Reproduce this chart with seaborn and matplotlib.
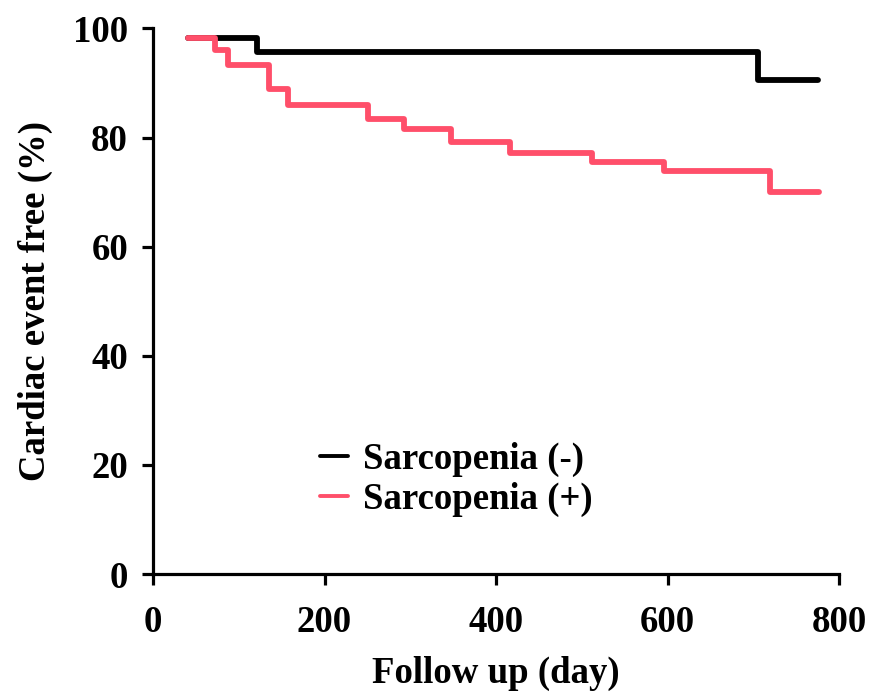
import pandas as pd
import seaborn as sns
import matplotlib.pyplot as plt

# Kaplan-Meier style curves
days_neg = [41, 121, 705, 776]
surv_neg = [98.2, 95.7, 90.5, 90.5]

days_pos = [41, 72, 88, 135, 157, 251, 293, 347, 416, 512, 596, 720, 777]
surv_pos = [98.3, 96.1, 93.4, 89.0, 85.9, 83.5, 81.6, 79.2, 77.2, 75.5, 73.8, 70.0, 70.0]

labels = ["Sarcopenia (-)", "Sarcopenia (+)"]
colors = ["#000000", "#FF4F6A"]

df = pd.concat([
    pd.DataFrame({"day": days_neg, "surv": surv_neg, "group": labels[0]}),
    pd.DataFrame({"day": days_pos, "surv": surv_pos, "group": labels[1]}),
])

sns.set_style("ticks")
plt.rcParams["font.family"] = ["Liberation Serif", "DejaVu Serif"]
plt.rcParams["font.weight"] = "bold"
for k in ["text.color", "axes.labelcolor", "xtick.color", "ytick.color", "axes.edgecolor"]:
    plt.rcParams[k] = "black"

fs = 26.5

fig = plt.figure(figsize=(8.71, 6.95), dpi=100)
ax = fig.add_axes([0.1757, 0.174, 0.7876, 0.785])

sns.lineplot(data=df, x="day", y="surv", hue="group", palette=colors,
             drawstyle="steps-post", estimator=None, sort=False,
             linewidth=4.2, ax=ax)
for ln in ax.get_lines():
    ln.set_clip_on(False)

ax.set_xlim(0, 800)
ax.set_ylim(0, 100)
ax.set_xticks([0, 200, 400, 600, 800])
ax.set_yticks([0, 20, 40, 60, 80, 100])
sns.despine(ax=ax)
for s in ["left", "bottom"]:
    ax.spines[s].set_linewidth(2.3)
ax.tick_params(width=2.3, length=8, labelsize=fs)
ax.tick_params(axis="x", pad=14)
ax.tick_params(axis="y", pad=10)
for t in ax.get_xticklabels() + ax.get_yticklabels():
    t.set_fontweight("bold")

ax.set_xlabel("Follow up (day)", fontsize=fs, fontweight="bold", labelpad=12)
ax.set_ylabel("Cardiac event free (%)", fontsize=fs, fontweight="bold", labelpad=14)

ax.legend(title=None, loc="upper left", bbox_to_anchor=(0.243, 0.242),
          frameon=False, handlelength=0.78, handletextpad=0.4,
          labelspacing=0.14, borderpad=0, borderaxespad=0,
          prop={"weight": "bold", "size": fs})
for h in ax.get_legend().get_lines():
    h.set_linewidth(2.8)

fig.savefig("out.png", dpi=100)
